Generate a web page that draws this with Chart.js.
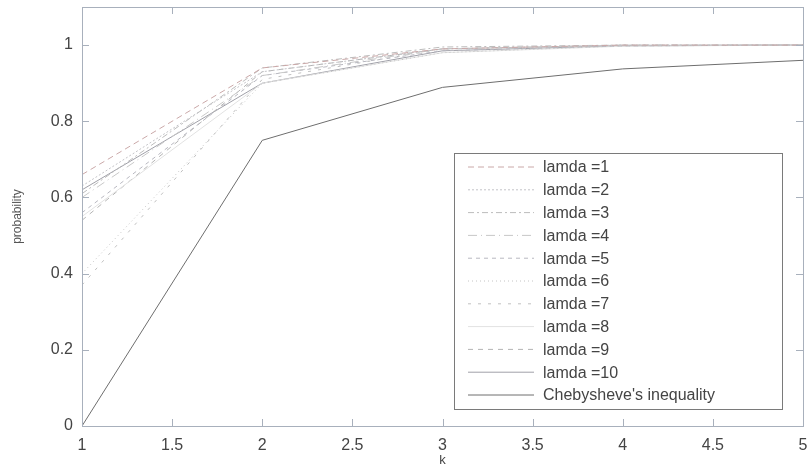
<!DOCTYPE html>
<html>
<head>
<meta charset="utf-8">
<script src="https://cdn.jsdelivr.net/npm/chart.js@4"></script>
<style>
  body { margin: 0; background: #fff; }
  #wrap { width: 808px; height: 468px; }
</style>
</head>
<body>
<div id="wrap"><canvas id="probChart" width="808" height="468"></canvas></div>
<script>
// k values on the x axis
const kValues = [1, 2, 3, 4, 5];

// probability per lamda
const lamda1 = [0.66, 0.94, 0.99, 1.0, 1.0];
const lamda2 = [0.63, 0.93, 0.99, 1.0, 1.0];
const lamda3 = [0.61, 0.94, 0.995, 1.0, 1.0];
const lamda4 = [0.60, 0.92, 0.99, 1.0, 1.0];
const lamda5 = [0.56, 0.92, 0.985, 0.998, 1.0];
const lamda6 = [0.40, 0.90, 0.98, 0.998, 1.0];
const lamda7 = [0.37, 0.91, 0.99, 0.999, 1.0];
const lamda8 = [0.55, 0.90, 0.98, 0.997, 1.0];
const lamda9 = [0.54, 0.93, 0.99, 0.999, 1.0];
const lamda10 = [0.62, 0.90, 0.985, 0.998, 1.0];
const chebyshev = [0, 0.75, 0.889, 0.9375, 0.96];

const seriesNames = ['lamda =1', 'lamda =2', 'lamda =3', 'lamda =4', 'lamda =5',
  'lamda =6', 'lamda =7', 'lamda =8', 'lamda =9', 'lamda =10', "Chebysheve's inequality"];
const seriesValues = [lamda1, lamda2, lamda3, lamda4, lamda5, lamda6, lamda7, lamda8, lamda9, lamda10, chebyshev];

const xTicks = [1, 1.5, 2, 2.5, 3, 3.5, 4, 4.5, 5];
const yTicks = [0, 0.2, 0.4, 0.6, 0.8, 1];

// line look per series (scan is mostly faint grey)
const lineColors = ['#caa8a8', '#c4c4c8', '#bcbcbc', '#c8c8c8', '#b8b8c0', '#c4c4c4',
  '#c0c0c0', '#e2e2e2', '#b4b4b4', '#a0a0a8', '#6e6e6e'];
const lineDashes = [[6, 4], [2, 2], [6, 3, 2, 3], [9, 4, 1, 4], [4, 4], [1, 3],
  [3, 7], [], [5, 5], [], []];

const datasets = seriesValues.map((vals, i) => ({
  label: seriesNames[i],
  data: vals.map((v, j) => ({ x: kValues[j], y: v })),
  borderColor: lineColors[i],
  borderDash: lineDashes[i],
  borderWidth: 1,
  pointRadius: 0,
  fill: false,
  tension: 0
}));

const fontFam = '"Liberation Sans", Arial, sans-serif';

// frame, inward ticks and legend box inside the plot
const matlabLook = {
  id: 'matlabLook',
  afterDraw(chart) {
    const ctx = chart.ctx;
    const a = chart.chartArea;
    const xs = chart.scales.x, ys = chart.scales.y;
    ctx.save();
    ctx.strokeStyle = '#a8b0bc';
    ctx.lineWidth = 1;
    ctx.strokeRect(a.left + 0.5, a.top + 0.5, a.right - a.left, a.bottom - a.top);
    ctx.beginPath();
    xTicks.forEach(t => {
      const px = Math.round(xs.getPixelForValue(t)) + 0.5;
      ctx.moveTo(px, a.bottom); ctx.lineTo(px, a.bottom - 7);
      ctx.moveTo(px, a.top); ctx.lineTo(px, a.top + 7);
    });
    yTicks.forEach(t => {
      const py = Math.round(ys.getPixelForValue(t)) + 0.5;
      ctx.moveTo(a.left, py); ctx.lineTo(a.left + 7, py);
      ctx.moveTo(a.right, py); ctx.lineTo(a.right - 7, py);
    });
    ctx.stroke();

    // legend
    const bx = a.right - 349, by = a.top + 146, bw = 328, bh = 256;
    ctx.fillStyle = '#fff';
    ctx.fillRect(bx, by, bw, bh);
    ctx.strokeStyle = '#7a7a7a';
    ctx.strokeRect(bx + 0.5, by + 0.5, bw, bh);
    ctx.font = '16px ' + fontFam;
    ctx.textBaseline = 'middle';
    chart.data.datasets.forEach((ds, i) => {
      const yy = by + 14 + i * 22.8;
      ctx.strokeStyle = ds.borderColor;
      ctx.setLineDash(ds.borderDash);
      ctx.lineWidth = 1;
      ctx.beginPath();
      ctx.moveTo(bx + 14, yy); ctx.lineTo(bx + 80, yy);
      ctx.stroke();
      ctx.setLineDash([]);
      ctx.fillStyle = '#444';
      ctx.fillText(ds.label, bx + 89, yy + 1);
    });
    ctx.restore();
  }
};

const plainNum = v => String(Math.round(v * 10) / 10);

new Chart(document.getElementById('probChart').getContext('2d'), {
  type: 'line',
  data: { datasets: datasets },
  plugins: [matlabLook],
  options: {
    responsive: false,
    animation: false,
    layout: { padding: { top: 7, right: 5, left: 0, bottom: 0 } },
    plugins: { legend: { display: false }, tooltip: { enabled: false } },
    scales: {
      x: {
        type: 'linear',
        min: 1, max: 5,
        afterBuildTicks: s => { s.ticks = xTicks.map(v => ({ value: v })); },
        afterFit: s => { s.height = 42; s.paddingLeft = 0; s.paddingRight = 0; },
        grid: { display: false, drawTicks: false },
        border: { display: false },
        ticks: { color: '#444', font: { family: fontFam, size: 16 }, padding: 10, maxRotation: 0, callback: plainNum },
        title: { display: true, text: 'k', color: '#444', font: { family: fontFam, size: 13 }, padding: { top: 0, bottom: 0 } }
      },
      y: {
        type: 'linear',
        min: 0, max: 1.1,
        afterBuildTicks: s => { s.ticks = yTicks.map(v => ({ value: v })); },
        afterFit: s => { s.width = 82; s.paddingTop = 0; s.paddingBottom = 0; },
        grid: { display: false, drawTicks: false },
        border: { display: false },
        ticks: { color: '#444', font: { family: fontFam, size: 16 }, padding: 9, callback: plainNum },
        title: { display: true, text: 'probability', color: '#555', font: { family: fontFam, size: 12 }, padding: { top: 10, bottom: 0 } }
      }
    }
  }
});
</script>
</body>
</html>
